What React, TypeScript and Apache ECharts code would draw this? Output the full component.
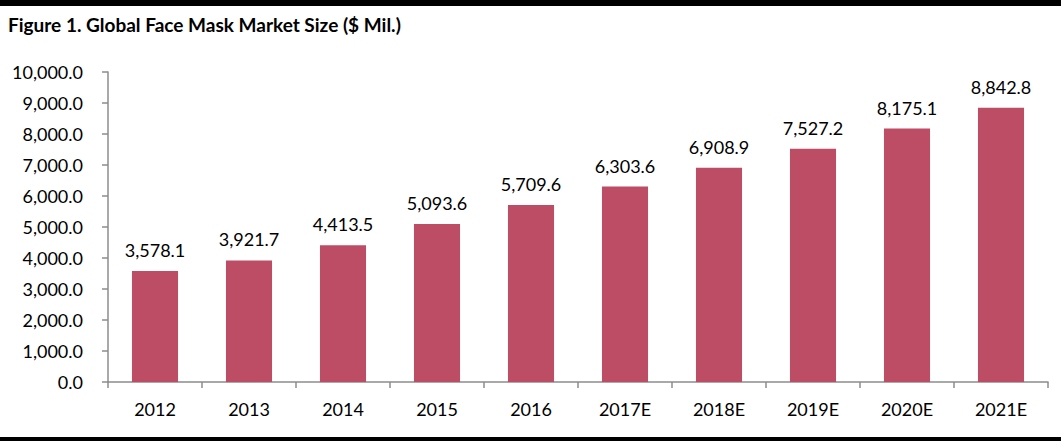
import React, { useEffect, useRef } from "react";
import * as echarts from "echarts";

const categories = ["2012", "2013", "2014", "2015", "2016", "2017E", "2018E", "2019E", "2020E", "2021E"];
const values = [3578.1, 3921.7, 4413.5, 5093.6, 5709.6, 6303.6, 6908.9, 7527.2, 8175.1, 8842.8];
const titleText = "Figure 1. Global Face Mask Market Size ($ Mil.)";

const fmt = (v: number) =>
  v.toLocaleString("en-US", { minimumFractionDigits: 1, maximumFractionDigits: 1 });

export default function App() {
  const ref = useRef<HTMLDivElement>(null);
  useEffect(() => {
    if (!ref.current) return;
    const chart = echarts.init(ref.current, undefined, { renderer: "svg" });
    const font = "Lato, 'Open Sans', sans-serif";
    chart.setOption({
      animation: false,
      backgroundColor: "#ffffff",
      title: {
        text: titleText,
        left: 3,
        top: 10,
        textStyle: { fontFamily: font, fontSize: 19, fontWeight: "bold", color: "#000" },
      },
      graphic: [
        { type: "rect", left: 0, top: 0, shape: { width: 1061, height: 6 }, style: { fill: "#000" } },
        { type: "rect", left: 0, top: 437, shape: { width: 1061, height: 4 }, style: { fill: "#000" } },
      ],
      grid: { left: 108, right: 13, top: 72, bottom: 59, containLabel: false },
      xAxis: {
        type: "category",
        data: categories,
        axisLine: { lineStyle: { color: "#8c8c8c", width: 1.5 } },
        axisTick: { show: true, length: 6, lineStyle: { color: "#8c8c8c", width: 1.5 } },
        axisLabel: { color: "#000", fontSize: 18, fontFamily: font, margin: 18 },
      },
      yAxis: {
        type: "value",
        min: 0,
        max: 10000,
        interval: 1000,
        splitLine: { show: false },
        axisLine: { show: true, lineStyle: { color: "#8c8c8c", width: 1.5 } },
        axisTick: { show: true, length: 6, lineStyle: { color: "#8c8c8c", width: 1.5 } },
        axisLabel: { color: "#000", fontSize: 18, fontFamily: font, margin: 25, formatter: (v: number) => fmt(v) },
      },
      series: [
        {
          type: "bar",
          data: values,
          barWidth: "49%",
          itemStyle: { color: "#BD4C65" },
          label: {
            show: true,
            position: "top",
            distance: 12,
            color: "#000",
            fontSize: 18,
            fontFamily: font,
            formatter: (p: any) => fmt(p.value),
          },
        },
      ],
    });
    return () => chart.dispose();
  }, []);
  return (
    <div
      ref={ref}
      style={{ position: "fixed", left: 0, top: 0, width: 1061, height: 441 }}
    />
  );
}
